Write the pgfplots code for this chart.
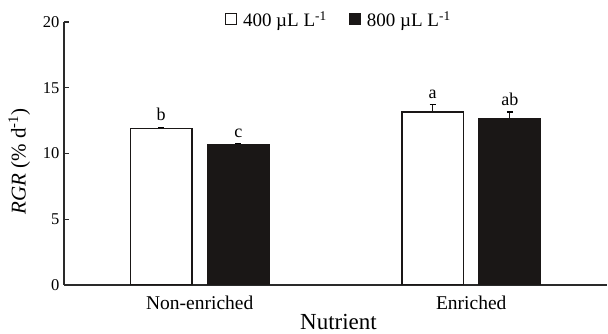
\documentclass[border=0pt]{standalone}
\usepackage{pgfplots}
\pgfplotsset{compat=1.18}
\usepackage{fontspec}
\setmainfont{Liberation Serif}
\definecolor{barblack}{HTML}{1A1716}
\definecolor{axgray}{HTML}{2A2A2A}
\begin{document}
\begin{tikzpicture}
\begin{axis}[
  scale only axis,
  width=543pt, height=263pt,
  xmin=-0.5, xmax=1.5, ymin=0, ymax=20,
  axis x line=bottom, axis y line=left,
  axis line style={-, line width=1.4pt, draw=axgray},
  ytick={0,5,10,15,20},
  xtick={0,1},
  xticklabels={Non-enriched, Enriched},
  extra x ticks={0.5},
  extra x tick labels={},
  extra x tick style={major tick length=5pt, tick style={line width=1.2pt, draw=axgray}},
  tick align=inside,
  major tick length=5pt,
  x tick style={draw=none},
  y tick style={line width=1.2pt, draw=axgray},
  yticklabel style={font=\fontsize{16.5}{16.5}\selectfont, text=black, xshift=-1pt},
  /pgf/number format/assume math mode=true,
  xticklabel style={font=\fontsize{19.5}{19.5}\selectfont, text=black, anchor=base, yshift=-20pt},
  xlabel={Nutrient},
  ylabel={\textit{RGR} (\% d\textsuperscript{-1})},
  xlabel style={font=\fontsize{23}{23}\selectfont, at={(axis description cs:0.5055,0)}, anchor=base, yshift=-45pt},
  ylabel style={font=\fontsize{21}{21}\selectfont, yshift=6pt, xshift=-8pt},
  ybar, bar width=0.227,
  legend style={at={(0.506,1.008)}, anchor=center, draw=none, fill=none,
    legend columns=2, font=\fontsize{19}{19}\selectfont,
    /tikz/every odd column/.append style={column sep=4pt},
    /tikz/every even column/.append style={column sep=20pt}},
  legend image code/.code={\draw[#1, line width=1.2pt] (0pt,-5pt) rectangle (11pt,6pt);},
]
\addplot[bar shift=-0.142, fill=white, draw=barblack, line width=1.3pt,
  error bars/.cd, y dir=plus, y explicit,
  error bar style={line width=1.2pt, draw=barblack},
  error mark options={rotate=90, mark size=3pt, line width=1.2pt}]
  coordinates {(0,11.9) +- (0,0.1) (1,13.15) +- (0,0.55)};
\addlegendentry{400 µL L\textsuperscript{-1}}
\addplot[bar shift=0.142, fill=barblack, draw=barblack, line width=1.3pt,
  error bars/.cd, y dir=plus, y explicit,
  error bar style={line width=1.2pt, draw=barblack},
  error mark options={rotate=90, mark size=3pt, line width=1.2pt}]
  coordinates {(0,10.7) +- (0,0.05) (1,12.65) +- (0,0.5)};
\addlegendentry{800 µL L\textsuperscript{-1}}
\node[anchor=base, font=\fontsize{18}{18}\selectfont] at (axis cs:-0.142,12.5) {b};
\node[anchor=base, font=\fontsize{18}{18}\selectfont] at (axis cs:0.142,11.25) {c};
\node[anchor=base, font=\fontsize{18}{18}\selectfont] at (axis cs:0.858,14.2) {a};
\node[anchor=base, font=\fontsize{18}{18}\selectfont] at (axis cs:1.142,13.65) {ab};
\end{axis}
\pgfresetboundingbox
\path[use as bounding box] (-64pt,-49pt) rectangle (544pt,285pt);
\end{tikzpicture}
\end{document}
